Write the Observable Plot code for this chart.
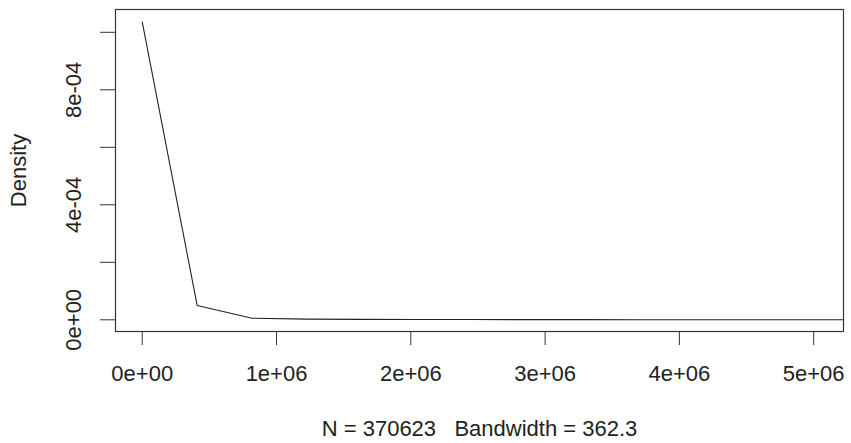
<!DOCTYPE html>
<html>
<head>
<meta charset="utf-8">
<script src="https://cdn.jsdelivr.net/npm/d3@7"></script>
<script src="https://cdn.jsdelivr.net/npm/@observablehq/plot@0.6"></script>
<style>
  html, body { margin: 0; padding: 0; background: #fff; }
  #chart svg { display: block; }
</style>
</head>
<body>
<div id="chart"></div>
<script>
// Density estimate points (x = value, y = density)
const xValues = [0, 409000, 818000, 1227000, 1636000, 2045000, 2454000, 2863000, 3272000, 3681000, 4090000, 4499000, 4908000, 5317000];
const yValues = [1.036e-3, 5.0e-5, 5.5e-6, 2.5e-6, 1.5e-6, 1.0e-6, 8e-7, 6e-7, 5e-7, 4e-7, 3e-7, 3e-7, 2e-7, 2e-7];

const xTicks = [0, 1e6, 2e6, 3e6, 4e6, 5e6];
const xTickLabels = ["0e+00", "1e+06", "2e+06", "3e+06", "4e+06", "5e+06"];
const yTicks = [0, 2e-4, 4e-4, 6e-4, 8e-4, 1e-3];
const yTickLabels = ["0e+00", "", "4e-04", "", "8e-04", ""];

const yLabel = "Density";
const caption = "N = 370623   Bandwidth = 362.3";

const data = xValues.map((x, i) => ({x, y: yValues[i]}));

const chart = Plot.plot({
  width: 851,
  height: 443,
  marginLeft: 115,
  marginRight: 8,
  marginTop: 9,
  marginBottom: 112,
  style: {fontFamily: "'Liberation Sans', Arial, sans-serif", fontSize: "22px", color: "#222", background: "#fff"},
  x: {domain: [-199000, 5222000]},
  y: {domain: [-0.407e-4, 1.0793e-3]},
  marks: [
    Plot.frame({stroke: "#333", strokeWidth: 1.2}),
    Plot.line(data, {x: "x", y: "y", stroke: "#222", strokeWidth: 1.1, clip: true}),
    Plot.axisX({
      ticks: xTicks,
      tickFormat: (d) => xTickLabels[xTicks.indexOf(d)],
      tickSize: 14,
      tickPadding: 20,
      fontSize: 22,
      stroke: "#333",
      label: caption,
      labelAnchor: "center",
      labelArrow: "none",
      labelOffset: 104
    }),
    Plot.axisY({
      ticks: yTicks,
      tickFormat: (d) => yTickLabels[yTicks.indexOf(d)],
      tickSize: 15,
      tickPadding: 20,
      tickRotate: -90,
      textAnchor: "middle",
      fontSize: 22,
      stroke: "#333",
      label: yLabel,
      labelAnchor: "center",
      labelArrow: "none",
      labelOffset: 105
    })
  ]
});
document.getElementById("chart").appendChild(chart);
</script>
</body>
</html>
